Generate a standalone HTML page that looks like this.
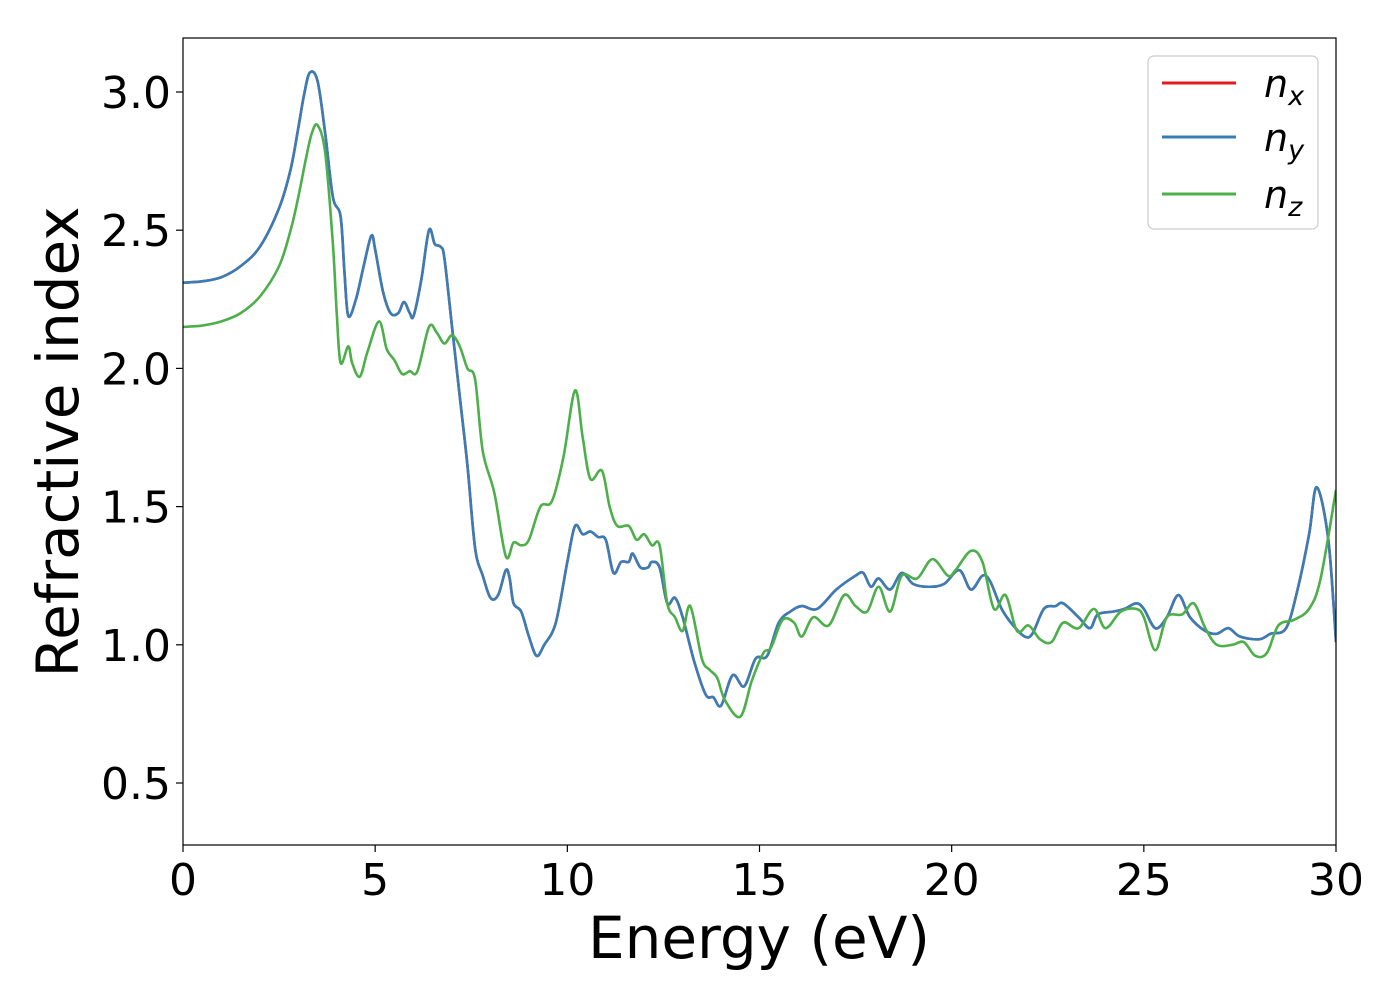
<!DOCTYPE html>
<html><head><meta charset="utf-8"><style>
body{margin:0;background:#fff;}
svg text{font-family:"DejaVu Sans","Liberation Sans",sans-serif;}
</style></head><body>
<svg id="chart" width="1400" height="1000" xmlns="http://www.w3.org/2000/svg">
<rect width="1400" height="1000" fill="#fff"/>
<g id="ticks"></g>
<g id="series"></g>
<rect x="183" y="38" width="1153" height="807" fill="none" stroke="#000" stroke-width="1.2"/>
<text x="759" y="958" font-size="58" text-anchor="middle">Energy (eV)</text>
<text transform="translate(78,442) rotate(-90)" font-size="58" text-anchor="middle">Refractive index</text>
<g>
<rect x="1148" y="56" width="170" height="173" rx="6" fill="#fff" stroke="#ccc" stroke-width="1.2"/>
<line x1="1162" y1="83" x2="1236" y2="83" stroke="#e41a1c" stroke-width="3"/>
<text x="1264" y="97" font-size="38" font-style="italic">n<tspan font-size="27" dy="8">x</tspan></text>
<line x1="1162" y1="137" x2="1236" y2="137" stroke="#377eb8" stroke-width="3"/>
<text x="1264" y="151" font-size="38" font-style="italic">n<tspan font-size="27" dy="8">y</tspan></text>
<line x1="1162" y1="194" x2="1236" y2="194" stroke="#4daf4a" stroke-width="3"/>
<text x="1264" y="208" font-size="38" font-style="italic">n<tspan font-size="27" dy="8">z</tspan></text>
</g>
</svg>
<script>
const xTicks=[0,5,10,15,20,25,30];
const yTicks=[0.5,1.0,1.5,2.0,2.5,3.0];
const yTickLabels=["0.5","1.0","1.5","2.0","2.5","3.0"];
const energyY=[0,0.5,1,1.5,2,2.5,2.8,3.0,3.15,3.3,3.5,3.7,3.9,4.1,4.2,4.3,4.5,4.7,4.9,5.0,5.2,5.4,5.6,5.75,5.9,6.0,6.2,6.4,6.55,6.7,6.8,7.0,7.2,7.4,7.6,7.8,8.0,8.2,8.4,8.5,8.6,8.8,9.0,9.2,9.4,9.7,10.0,10.2,10.4,10.6,10.8,11.0,11.2,11.4,11.6,11.7,11.9,12.1,12.2,12.4,12.6,12.8,13.0,13.3,13.6,13.8,14.0,14.3,14.6,14.9,15.2,15.5,15.8,16.1,16.5,17.0,17.5,17.7,17.9,18.1,18.4,18.7,19.0,19.4,19.8,20.2,20.5,20.8,21.0,21.3,21.6,21.9,22.1,22.4,22.7,22.9,23.3,23.6,23.8,24.2,24.5,24.8,25.0,25.3,25.6,25.9,26.2,26.6,26.9,27.2,27.5,28.0,28.3,28.7,29.0,29.3,29.5,29.8,30];
const nY=[2.31,2.315,2.33,2.37,2.44,2.58,2.72,2.87,2.99,3.07,3.04,2.85,2.62,2.55,2.35,2.19,2.25,2.37,2.48,2.43,2.28,2.20,2.20,2.24,2.20,2.19,2.32,2.50,2.45,2.44,2.40,2.15,1.90,1.65,1.35,1.25,1.17,1.18,1.27,1.24,1.15,1.12,1.03,0.96,1.00,1.08,1.30,1.43,1.40,1.41,1.39,1.38,1.26,1.30,1.30,1.33,1.28,1.28,1.30,1.28,1.15,1.17,1.10,0.94,0.82,0.81,0.78,0.89,0.85,0.95,0.96,1.08,1.12,1.14,1.13,1.20,1.25,1.26,1.21,1.24,1.20,1.26,1.22,1.21,1.22,1.27,1.20,1.25,1.23,1.13,1.07,1.03,1.04,1.13,1.14,1.15,1.10,1.06,1.11,1.12,1.13,1.15,1.13,1.06,1.10,1.18,1.10,1.05,1.04,1.06,1.03,1.02,1.04,1.06,1.20,1.40,1.57,1.38,1.01];
const nX=nY.slice();
const energyZ=[0,0.5,1,1.5,2,2.5,2.8,3.0,3.2,3.35,3.5,3.7,3.9,4.0,4.1,4.3,4.4,4.6,4.8,5.1,5.3,5.5,5.7,5.9,6.1,6.4,6.6,6.8,7.0,7.2,7.4,7.6,7.8,8.1,8.4,8.6,8.8,9.0,9.3,9.6,9.9,10.2,10.4,10.6,10.9,11.1,11.3,11.6,11.8,12.0,12.2,12.4,12.6,12.8,13.0,13.2,13.5,13.7,13.9,14.1,14.5,14.8,15.1,15.3,15.6,15.9,16.1,16.4,16.8,17.2,17.5,17.8,18.1,18.4,18.7,19.1,19.5,19.9,20.1,20.5,20.8,21.1,21.4,21.7,22.0,22.3,22.6,22.9,23.3,23.7,24.0,24.4,24.8,25.0,25.3,25.6,26.0,26.3,26.6,26.9,27.3,27.6,27.9,28.2,28.5,28.9,29.3,29.6,30];
const nZ=[2.15,2.155,2.17,2.20,2.26,2.37,2.50,2.62,2.76,2.85,2.88,2.78,2.45,2.20,2.02,2.08,2.02,1.97,2.06,2.17,2.07,2.03,1.98,1.99,1.99,2.15,2.13,2.09,2.12,2.08,2.00,1.96,1.70,1.55,1.32,1.37,1.36,1.38,1.50,1.52,1.68,1.92,1.75,1.60,1.63,1.50,1.43,1.43,1.38,1.40,1.36,1.36,1.15,1.10,1.05,1.14,0.95,0.91,0.88,0.80,0.74,0.87,0.97,0.99,1.09,1.08,1.03,1.10,1.07,1.18,1.14,1.12,1.21,1.12,1.25,1.24,1.31,1.25,1.27,1.34,1.30,1.13,1.18,1.05,1.07,1.02,1.01,1.08,1.06,1.13,1.06,1.12,1.13,1.10,0.98,1.10,1.11,1.15,1.06,1.00,1.00,1.01,0.96,0.97,1.07,1.09,1.13,1.24,1.56];
const X=e=>183+e*(1153/30);
const Y=v=>783-(v-0.5)*276.4;
const NS="http://www.w3.org/2000/svg";
const tg=document.getElementById('ticks');
function mk(tag,attrs,parent){const el=document.createElementNS(NS,tag);for(const k in attrs)el.setAttribute(k,attrs[k]);parent.appendChild(el);return el;}
xTicks.forEach(t=>{
 const l=mk('line',{x1:X(t),x2:X(t),y1:845,y2:852,stroke:'#000','stroke-width':1.2},tg);
 
 
 const tx=mk('text',{x:X(t),y:895,'font-size':44,'text-anchor':'middle'},tg);
 tx.textContent=t;
 
 
});
yTicks.forEach((t,i)=>{
 const l=mk('line',{x1:176,x2:183,y1:Y(t),y2:Y(t),stroke:'#000','stroke-width':1.2},tg);
 
 
 const tx=mk('text',{x:171,y:Y(t)+16,'font-size':44,'text-anchor':'end'},tg);
 tx.textContent=yTickLabels[i];
 
 
});
function pathD(xs,ys){
 const p=xs.map((e,i)=>[X(e),Y(ys[i])]);
 let d='M'+p[0][0]+','+p[0][1];
 for(let i=0;i<p.length-1;i++){
  const p0=p[Math.max(0,i-1)],p1=p[i],p2=p[i+1],p3=p[Math.min(p.length-1,i+2)];
  const c1x=p1[0]+(p2[0]-p0[0])/6,c1y=p1[1]+(p2[1]-p0[1])/6;
  const c2x=p2[0]-(p3[0]-p1[0])/6,c2y=p2[1]-(p3[1]-p1[1])/6;
  d+=' C'+c1x+','+c1y+' '+c2x+','+c2y+' '+p2[0]+','+p2[1];
 }
 return d;
}
const sg=document.getElementById('series');
const cp=mk('clipPath',{id:'clip'},sg);mk('rect',{x:183,y:38,width:1153,height:807},cp);
[[energyY,nX,'#e41a1c','line-nx'],[energyY,nY,'#377eb8','line-ny'],[energyZ,nZ,'#4daf4a','line-nz']].forEach(s=>{
 const p=mk('path',{d:pathD(s[0],s[1]),fill:'none',stroke:s[2],'stroke-width':2.6,'clip-path':'url(#clip)'},sg);
 
 
});
</script>
</body></html>
